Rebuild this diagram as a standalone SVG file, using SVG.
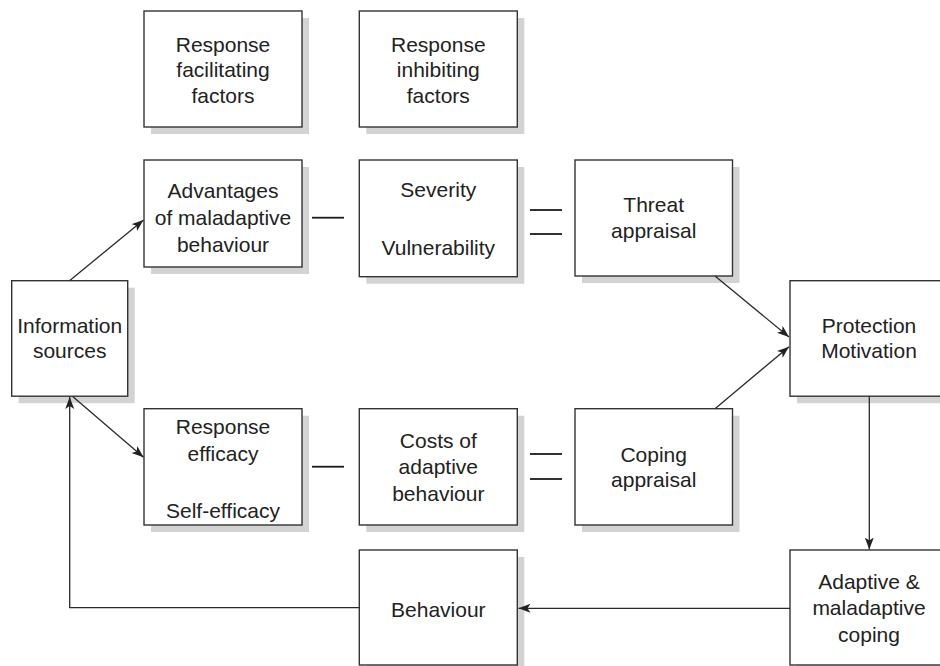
<svg xmlns="http://www.w3.org/2000/svg" width="940" height="666" viewBox="0 0 940 666">
  <style>
    .shadow { fill: #d3d3d3; }
    .box { fill: #ffffff; stroke: #333333; stroke-width: 1.4; }
    .label { font-family: "Liberation Sans", Arial, Helvetica, sans-serif; font-size: 21px; fill: #222222; text-anchor: middle; }
    .conn { fill: none; stroke: #2a2a2a; stroke-width: 1.3; }
    .dash { stroke: #1a1a1a; stroke-width: 1.8; }
  </style>
  <defs>
    <marker id="arrow" markerUnits="userSpaceOnUse" markerWidth="14" markerHeight="10" refX="12" refY="4.5" orient="auto">
      <path d="M0,0 L12,4.5 L0,9 L3,4.5 z" fill="#222222"/>
    </marker>
  </defs>

  <rect width="940" height="666" fill="#ffffff"/>

  <!-- Nodes -->
  <g id="response-facilitating">
    <rect class="shadow" x="151" y="18" width="158" height="116"/>
    <rect class="box" x="144" y="11" width="158" height="116"/>
    <text class="label" x="223" y="51.5">Response</text>
    <text class="label" x="223" y="77">facilitating</text>
    <text class="label" x="223" y="102.7">factors</text>
  </g>

  <g id="response-inhibiting">
    <rect class="shadow" x="366.3" y="18" width="158" height="116"/>
    <rect class="box" x="359.3" y="11" width="158" height="116"/>
    <text class="label" x="438.3" y="51.5">Response</text>
    <text class="label" x="438.3" y="77">inhibiting</text>
    <text class="label" x="438.3" y="102.7">factors</text>
  </g>

  <g id="advantages">
    <rect class="shadow" x="151" y="167" width="158" height="107"/>
    <rect class="box" x="144" y="160" width="158" height="107"/>
    <text class="label" x="223" y="198.3">Advantages</text>
    <text class="label" x="223" y="225">of maladaptive</text>
    <text class="label" x="223" y="251.7">behaviour</text>
  </g>

  <g id="severity-vulnerability">
    <rect class="shadow" x="366.3" y="167" width="158" height="116.7"/>
    <rect class="box" x="359.3" y="160" width="158" height="116.7"/>
    <text class="label" x="438.3" y="196.7">Severity</text>
    <text class="label" x="438.3" y="255">Vulnerability</text>
  </g>

  <g id="threat-appraisal">
    <rect class="shadow" x="582" y="167" width="157.5" height="116"/>
    <rect class="box" x="575" y="160" width="157.5" height="116"/>
    <text class="label" x="653.7" y="212.3">Threat</text>
    <text class="label" x="653.7" y="238.3">appraisal</text>
  </g>

  <g id="information-sources">
    <rect class="shadow" x="18.7" y="287.7" width="116" height="115.5"/>
    <rect class="box" x="11.7" y="280.7" width="116" height="115.5"/>
    <text class="label" x="69.7" y="333.3">Information</text>
    <text class="label" x="69.7" y="358.3">sources</text>
  </g>

  <g id="protection-motivation">
    <rect class="shadow" x="797" y="287.7" width="158" height="115.5"/>
    <rect class="box" x="790" y="280.7" width="158" height="115.5"/>
    <text class="label" x="869" y="333.3">Protection</text>
    <text class="label" x="869" y="358.3">Motivation</text>
  </g>

  <g id="response-self-efficacy">
    <rect class="shadow" x="151" y="415.7" width="158" height="116.3"/>
    <rect class="box" x="144" y="408.7" width="158" height="116.3"/>
    <text class="label" x="223" y="434">Response</text>
    <text class="label" x="223" y="460.7">efficacy</text>
    <text class="label" x="223" y="518.3">Self-efficacy</text>
  </g>

  <g id="costs-adaptive">
    <rect class="shadow" x="366.3" y="415.7" width="158" height="116.3"/>
    <rect class="box" x="359.3" y="408.7" width="158" height="116.3"/>
    <text class="label" x="438.3" y="448.3">Costs of</text>
    <text class="label" x="438.3" y="474">adaptive</text>
    <text class="label" x="438.3" y="500.7">behaviour</text>
  </g>

  <g id="coping-appraisal">
    <rect class="shadow" x="582" y="415.7" width="157.5" height="116.3"/>
    <rect class="box" x="575" y="408.7" width="157.5" height="116.3"/>
    <text class="label" x="653.7" y="461.7">Coping</text>
    <text class="label" x="653.7" y="487.3">appraisal</text>
  </g>

  <g id="adaptive-maladaptive-coping">
    <rect class="shadow" x="797" y="557" width="158" height="115"/>
    <rect class="box" x="790" y="550" width="158" height="115"/>
    <text class="label" x="869" y="589">Adaptive &amp;</text>
    <text class="label" x="869" y="615">maladaptive</text>
    <text class="label" x="869" y="641.7">coping</text>
  </g>

  <g id="behaviour">
    <rect class="shadow" x="366.3" y="557" width="158" height="115"/>
    <rect class="box" x="359.3" y="550" width="158" height="115"/>
    <text class="label" x="438.3" y="616.7">Behaviour</text>
  </g>

  <!-- Connectors -->
  <g id="connectors">
    <line class="conn" x1="69.5" y1="280.7" x2="143.5" y2="220" marker-end="url(#arrow)"/>
    <line class="conn" x1="72.7" y1="396.5" x2="143.5" y2="457.3" marker-end="url(#arrow)"/>
    <line class="conn" x1="715" y1="276" x2="789" y2="337" marker-end="url(#arrow)"/>
    <line class="conn" x1="715" y1="408.7" x2="789" y2="346.7" marker-end="url(#arrow)"/>
    <line class="conn" x1="869.3" y1="396.2" x2="869.3" y2="549.5" marker-end="url(#arrow)"/>
    <line class="conn" x1="790" y1="608.3" x2="518.5" y2="608.3" marker-end="url(#arrow)"/>
    <polyline class="conn" points="359.3,607.7 69.7,607.7 69.7,397" marker-end="url(#arrow)"/>

    <!-- plain links between neighbouring boxes -->
    <line class="dash" x1="312" y1="217.7" x2="344" y2="217.7"/>
    <line class="dash" x1="530" y1="210" x2="562" y2="210"/>
    <line class="dash" x1="530" y1="234" x2="562" y2="234"/>
    <line class="dash" x1="312" y1="466.7" x2="344" y2="466.7"/>
    <line class="dash" x1="530" y1="454" x2="562" y2="454"/>
    <line class="dash" x1="530" y1="479" x2="562" y2="479"/>
  </g>
</svg>
